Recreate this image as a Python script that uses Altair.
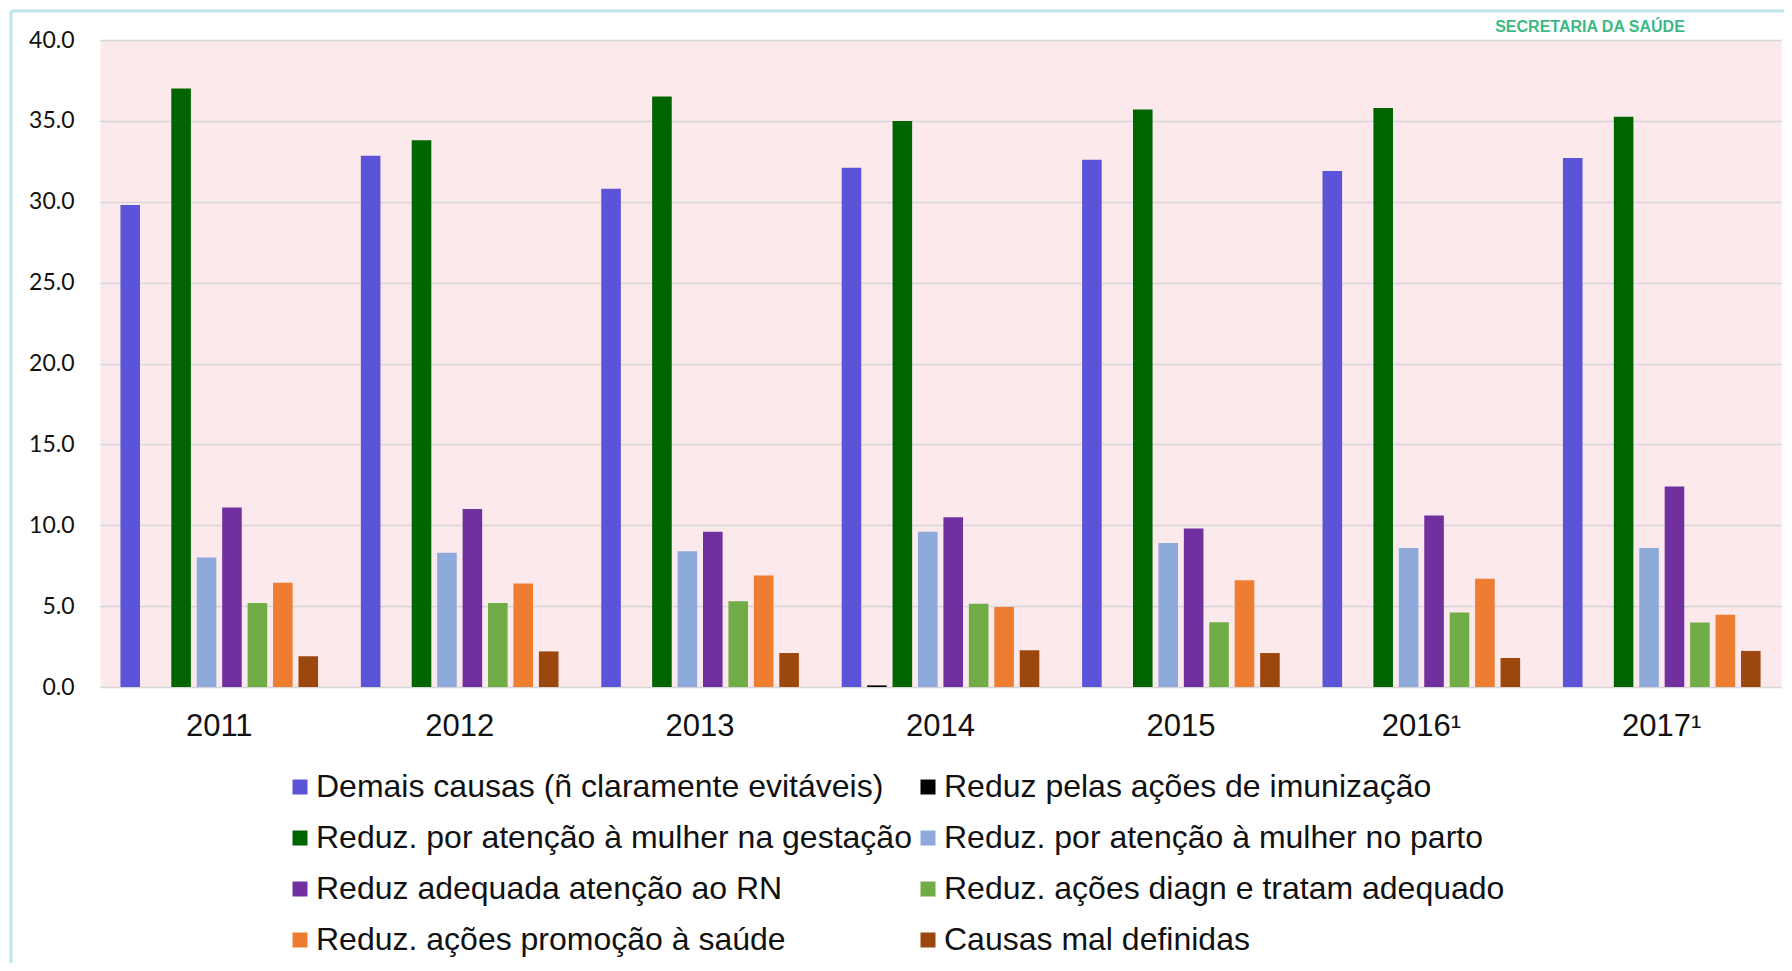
import altair as alt
import pandas as pd

years = ["2011", "2012", "2013", "2014", "2015", "2016¹", "2017¹"]
categories = [
    "Demais causas (ñ claramente evitáveis)",
    "Reduz pelas ações de imunização",
    "Reduz. por atenção à mulher na gestação",
    "Reduz. por atenção à mulher no parto",
    "Reduz adequada atenção ao RN",
    "Reduz. ações diagn e tratam adequado",
    "Reduz. ações promoção à saúde",
    "Causas mal definidas",
]
colors = ["#5b54d8", "#000000", "#006400", "#8eaadb", "#7030a0", "#70ad47", "#ed7d31", "#9c470d"]

demais = [29.8, 32.85, 30.8, 32.1, 32.6, 31.9, 32.7]
imunizacao = [0.0, 0.0, 0.0, 0.1, 0.0, 0.0, 0.0]
gestacao = [37.0, 33.8, 36.5, 35.0, 35.7, 35.8, 35.25]
parto = [8.0, 8.3, 8.4, 9.6, 8.9, 8.6, 8.6]
rn = [11.1, 11.0, 9.6, 10.5, 9.8, 10.6, 12.4]
diagn = [5.2, 5.2, 5.3, 5.15, 4.0, 4.6, 3.98]
promocao = [6.45, 6.4, 6.9, 4.94, 6.6, 6.7, 4.46]
mal_definidas = [1.9, 2.2, 2.1, 2.27, 2.1, 1.8, 2.23]

series = [demais, imunizacao, gestacao, parto, rn, diagn, promocao, mal_definidas]
rows = []
for cat, vals in zip(categories, series):
    for yr, v in zip(years, vals):
        rows.append({"ano": yr, "causa": cat, "valor": v})
df = pd.DataFrame(rows)

bars = alt.Chart(df).mark_bar().encode(
    x=alt.X(
        "ano:N",
        sort=years,
        scale=alt.Scale(paddingInner=0.178, paddingOuter=0.085),
        axis=alt.Axis(
            title=None, labelAngle=0, labelFont="Liberation Sans", labelFontSize=31,
            labelColor="#111111", labelPadding=24, ticks=False, domain=False, grid=False,
        ),
    ),
    xOffset=alt.XOffset("causa:N", sort=categories, scale=alt.Scale(paddingInner=0.23, paddingOuter=0)),
    y=alt.Y(
        "valor:Q",
        scale=alt.Scale(domain=[0, 40], nice=False),
        axis=alt.Axis(
            title=None, values=[0, 5, 10, 15, 20, 25, 30, 35, 40], format=".1f",
            labelFont="Lato", labelFontSize=23, labelColor="#111111", labelPadding=26,
            tickSize=0, ticks=False, domain=False, grid=True, gridColor="#d6d6d6", gridWidth=1.5,
        ),
    ),
    color=alt.Color(
        "causa:N",
        sort=categories,
        scale=alt.Scale(domain=categories, range=colors),
        legend=alt.Legend(
            title=None, orient="none", legendX=184, legendY=731, columns=2,
            direction="horizontal",
            columnPadding=0, rowPadding=19, symbolType="square", symbolSize=225,
            symbolStrokeWidth=0, labelFont="Liberation Sans", labelFontSize=32,
            labelColor="#111111", labelLimit=900, labelOffset=0, padding=0,
        ),
    ),
)

one = pd.DataFrame({"t": ["SECRETARIA DA SAÚDE"]})
frame_top = alt.Chart(one).mark_rule(color="#c0e6eb", strokeWidth=3).encode(
    x=alt.value(-89), x2=alt.value(1684), y=alt.value(-29)
)
frame_left = alt.Chart(one).mark_rule(color="#c0e6eb", strokeWidth=3).encode(
    x=alt.value(-89), y=alt.value(-29), y2=alt.value(925)
)
logo = alt.Chart(one).mark_text(
    font="Liberation Sans", fontSize=16, fontWeight="bold", color="#3db887",
    align="center", baseline="middle",
).encode(x=alt.value(1490), y=alt.value(-13), text="t:N")

chart = alt.layer(frame_top, frame_left, bars, logo).properties(
    width=1681,
    height=647,
    autosize=alt.AutoSizeParams(type="none"),
    padding={"left": 92, "top": 32, "right": 3, "bottom": 276},
).configure_view(fill="#fce9ec", stroke="transparent")

chart.save("out.html", embed_options={"renderer": "svg", "actions": False})
